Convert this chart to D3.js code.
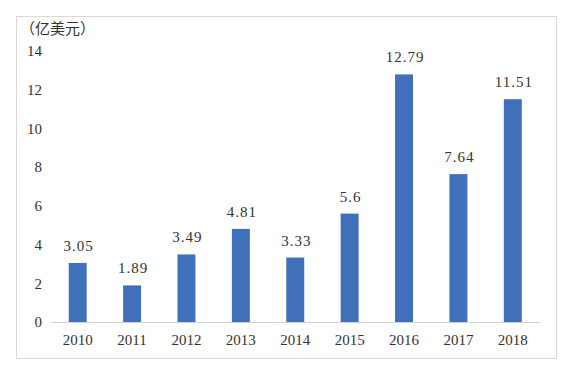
<!DOCTYPE html>
<html><head><meta charset="utf-8">
<script src="https://cdn.jsdelivr.net/npm/d3@7"></script>
<style>body{margin:0;background:#fff}</style>
</head><body>
<svg id="c" width="579" height="371"></svg>
<script>
const categories = ["2010","2011","2012","2013","2014","2015","2016","2017","2018"];
const values = [3.05, 1.89, 3.49, 4.81, 3.33, 5.6, 12.79, 7.64, 11.51];
const labels = ["3.05","1.89","3.49","4.81","3.33","5.6","12.79","7.64","11.51"];
const yTicks = [0,2,4,6,8,10,12,14];
const unit = "（亿美元）";

const SERIF = '"Liberation Serif", serif';
const svg = d3.select("#c");
svg.append("rect").attr("x",16.5).attr("y",16.5).attr("width",540).attr("height",342)
  .attr("fill","#fff").attr("stroke","#d9d9d9").attr("stroke-width",1);

const x = d3.scaleBand().domain(categories).range([50.5,540]).paddingInner(0.67).paddingOuter(0.335);
const y = d3.scaleLinear().domain([0,14]).range([322,51]);

const gy = svg.append("g").attr("transform","translate(42,0)")
  .call(d3.axisLeft(y).tickValues(yTicks).tickSize(0).tickPadding(0));
gy.select(".domain").remove();
gy.selectAll("text").style("font-family",SERIF).style("font-size","15px").attr("fill","#333");

svg.selectAll("rect.bar").data(values).enter().append("rect").attr("class","bar")
  .attr("x",(d,i)=>x(categories[i])).attr("width",x.bandwidth())
  .attr("y",d=>y(d)).attr("height",d=>y(0)-y(d)).attr("fill","#3F70B9");

const gx = svg.append("g").attr("transform","translate(0,322)")
  .call(d3.axisBottom(x).tickSize(0).tickPadding(12));
gx.select(".domain").attr("stroke","#d0d0d0");
gx.selectAll("text").style("font-family",SERIF).style("font-size","15px").attr("fill","#333");

svg.selectAll("text.val").data(values).enter().append("text").attr("class","val")
  .attr("x",(d,i)=>x(categories[i])+x.bandwidth()/2+1).attr("y",d=>y(d)-12)
  .attr("text-anchor","middle").style("font-family",SERIF).style("font-size","15px")
  .style("letter-spacing","1px").attr("fill","#333").text((d,i)=>labels[i]);

svg.append("text").attr("x",20).attr("y",34).style("font-family",'"Noto Sans CJK SC", sans-serif')
  .style("font-size","15px").attr("fill","#333").text(unit);
</script>
</body></html>
